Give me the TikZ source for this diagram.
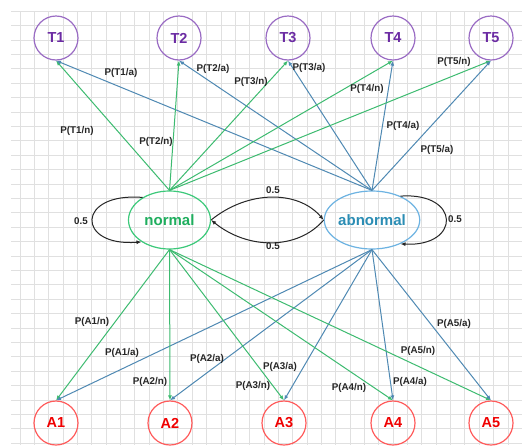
\documentclass[tikz,border=0pt]{standalone}
\usepackage{fontspec}
\setmainfont{Liberation Sans}
\usetikzlibrary{shapes.geometric,arrows.meta}
\definecolor{gridc}{HTML}{E0E0E0}
\definecolor{tstroke}{HTML}{9A6CC4}
\definecolor{ttext}{HTML}{6B2BA3}
\definecolor{astroke}{HTML}{FF5C5C}
\definecolor{atext}{HTML}{F00000}
\definecolor{nstroke}{HTML}{3CC97A}
\definecolor{ntext}{HTML}{1FAE5E}
\definecolor{bstroke}{HTML}{6DB3E2}
\definecolor{btext}{HTML}{2B8DB4}
\definecolor{gedge}{HTML}{3DBB70}
\definecolor{bedge}{HTML}{4F89B3}
\definecolor{lblc}{HTML}{262626}
\tikzset{
  gridline/.style={draw=gridc, line width=0.8pt},
  tnode/.style={circle, draw=tstroke, line width=1.2pt, minimum size=44pt, inner sep=0pt, text=ttext, font=\fontsize{14.5}{16}\selectfont\bfseries},
  anode/.style={circle, draw=astroke, line width=1.2pt, minimum size=44pt, inner sep=0pt, text=atext, font=\fontsize{14.5}{16}\selectfont\bfseries},
  nnode/.style={ellipse, draw=nstroke, line width=1.2pt, minimum width=82pt, minimum height=58pt, inner sep=0pt, text=ntext, font=\fontsize{15}{17}\selectfont\bfseries},
  bnode/.style={ellipse, draw=bstroke, line width=1.2pt, minimum width=84pt, minimum height=58pt, inner sep=0pt, text=btext, font=\fontsize{15}{17}\selectfont\bfseries},
  nedge/.style={draw=gedge, line width=1pt, -{Latex[length=5pt,width=4pt]}},
  bedgest/.style={draw=bedge, line width=1pt, -{Latex[length=5pt,width=4pt]}},
  kedge/.style={draw=black!85, line width=1pt, -{Latex[length=5pt,width=4pt]}},
  lbl/.style={text=lblc, inner sep=0pt, font=\fontsize{9.8}{11}\selectfont\bfseries},
}
\begin{document}
\begin{tikzpicture}[x=1pt,y=-1pt]
\useasboundingbox (0,0) rectangle (522,445);
\fill[white] (0,0) rectangle (522,445);
\begin{scope}
\clip (11,11) rectangle (522,445);
\foreach \i in {0,...,35} \draw[gridline] ({20+14.35*\i},11) -- ({20+14.35*\i},445);
\foreach \j in {0,...,31} \draw[gridline] (11,{11.2+14.4*\j}) -- (522,{11.2+14.4*\j});
\end{scope}

% nodes
\node[tnode] (T1) at (56,38) {T1};
\node[tnode] (T2) at (179,38) {T2};
\node[tnode] (T3) at (288,38) {T3};
\node[tnode] (T4) at (393,38) {T4};
\node[tnode] (T5) at (491,38) {T5};
\node[anode] (A1) at (56,423) {A1};
\node[anode] (A2) at (170,423) {A2};
\node[anode] (A3) at (284,423) {A3};
\node[anode] (A4) at (393,423) {A4};
\node[anode] (A5) at (491,423) {A5};
\node[nnode] (N) at (169.5,220) {normal};
\node[bnode] (Ab) at (372,220) {abnormal};

% edges
\foreach \t in {T1,T2,T3,T4,T5} {
  \draw[nedge] (N.north) -- (\t.south);
  \draw[bedgest] (Ab.north) -- (\t.south);
}
\foreach \a in {A1,A2,A3,A4,A5} {
  \draw[nedge] (N.south) -- (\a.north);
  \draw[bedgest] (Ab.south) -- (\a.north);
}

% loops and transitions
\draw[kedge] (N.140) .. controls (76,192) and (76,247) .. (N.218);
\draw[kedge] (Ab.40) .. controls (461,192) and (461,247) .. (Ab.320);
\draw[kedge] (N.east) .. controls (248,190) and (298,190) .. (Ab.west);
\draw[kedge] (Ab.west) .. controls (298,250) and (248,250) .. (N.east);

% labels
\node[lbl] (l1) at (81,221) {0.5};
\node[lbl] (l2) at (455,219) {0.5};
\node[lbl] (l3) at (273,190) {0.5};
\node[lbl] (l4) at (273,246) {0.5};

\node[lbl] (T1a) at (121,73) {P(T1/a)};
\node[lbl] (T2a) at (213,69) {P(T2/a)};
\node[lbl] (T3n) at (251,82) {P(T3/n)};
\node[lbl] (T1n) at (77,131) {P(T1/n)};
\node[lbl] (T2n) at (156,142) {P(T2/n)};
\node[lbl] (T3a) at (309,68) {P(T3/a)};
\node[lbl] (T4n) at (367,89) {P(T4/n)};
\node[lbl] (T5n) at (454,62) {P(T5/n)};
\node[lbl] (T4a) at (403,126) {P(T4/a)};
\node[lbl] (T5a) at (437,150) {P(T5/a)};

\node[lbl] (A1n) at (92,322) {P(A1/n)};
\node[lbl] (A1a) at (122,353) {P(A1/a)};
\node[lbl] (A2a) at (207,359) {P(A2/a)};
\node[lbl] (A2n) at (150,382) {P(A2/n)};
\node[lbl] (A3n) at (253,386) {P(A3/n)};
\node[lbl] (A3a) at (280,367) {P(A3/a)};
\node[lbl] (A4n) at (349,388) {P(A4/n)};
\node[lbl] (A4a) at (410,382) {P(A4/a)};
\node[lbl] (A5n) at (418,351) {P(A5/n)};
\node[lbl] (A5a) at (454,324) {P(A5/a)};
\end{tikzpicture}
\end{document}
